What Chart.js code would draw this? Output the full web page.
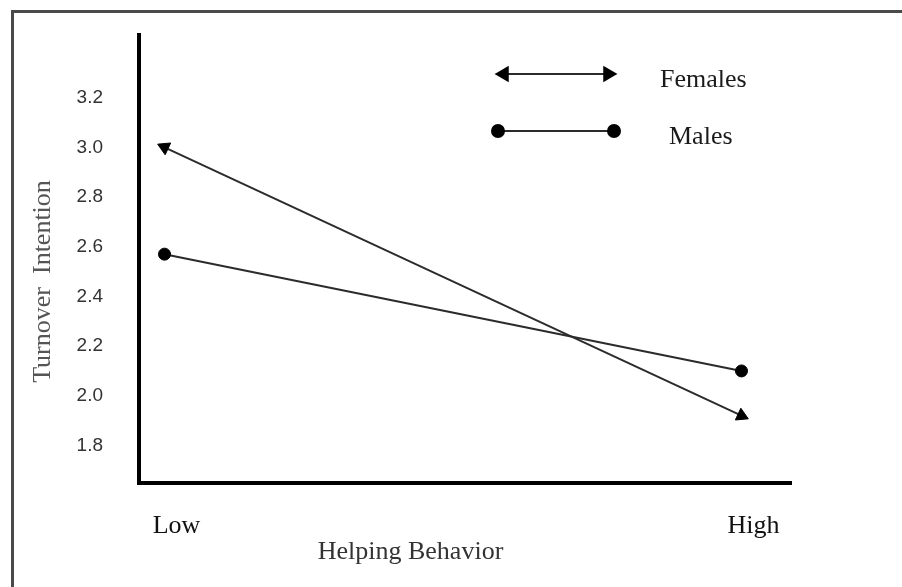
<!DOCTYPE html>
<html><head><meta charset="utf-8">
<script src="https://cdn.jsdelivr.net/npm/chart.js@4/dist/chart.umd.min.js"></script>
<style>
html,body{margin:0;padding:0;background:#fff;}
#wrap{position:relative;width:902px;height:587px;overflow:hidden;}
#frame{position:absolute;left:11px;top:10px;right:-10px;bottom:-10px;border-top:3px solid #4a4a4a;border-left:3px solid #4a4a4a;pointer-events:none;}
canvas{position:absolute;left:0;top:0;}
</style></head><body>
<div id="wrap"><canvas id="c" width="902" height="587"></canvas><div id="frame"></div></div>
<script>
const categories = ['Low', 'High'];
const seriesNames = ['Females', 'Males'];
const females = [3.0, 1.92];
const males = [2.57, 2.10];
const yTicks = [1.8, 2.0, 2.2, 2.4, 2.6, 2.8, 3.0, 3.2];
const xTitle = 'Helping Behavior';
const yTitle = 'Turnover  Intention';

const serif = '"Liberation Serif", "Times New Roman", serif';
const sans = '"Liberation Sans", Arial, sans-serif';

function arrowRotation(ctx) {
  const ch = ctx.chart;
  const d = ch.data.datasets[ctx.datasetIndex].data;
  const i = ctx.dataIndex, j = i === 0 ? 1 : 0;
  const xs = ch.scales.x, ys = ch.scales.y;
  if (!xs || !ys || d[i] == null) return 0;
  const dx = xs.getPixelForValue(d[i].x) - xs.getPixelForValue(d[j].x);
  const dy = ys.getPixelForValue(d[i].y) - ys.getPixelForValue(d[j].y);
  return Math.atan2(dy, dx) * 180 / Math.PI + 90;
}

const decor = {
  id: 'decor',
  afterDraw(chart) {
    const c = chart.ctx;
    c.save();
    // axis titles
    c.fillStyle = '#333';
    c.font = '26px ' + serif;
    c.textAlign = 'center';
    c.textBaseline = 'alphabetic';
    c.fillText(xTitle, 410.5, 559);
    c.save();
    c.translate(50, 281.5);
    c.rotate(-Math.PI / 2);
    c.fillStyle = '#555';
    c.fillText(yTitle, 0, 0);
    c.restore();
    // legend
    const rows = [{ y: 74, tx: 660, ty: 87 }, { y: 131, tx: 669, ty: 144 }];
    chart.data.datasets.forEach((ds, k) => {
      const r = rows[k];
      const x1 = 498, x2 = 614;
      c.strokeStyle = ds.borderColor;
      c.lineWidth = ds.borderWidth;
      c.beginPath(); c.moveTo(x1, r.y); c.lineTo(x2, r.y); c.stroke();
      c.fillStyle = ds.pointBackgroundColor;
      c.strokeStyle = ds.pointBorderColor;
      const pts = ds.pointStyle === 'triangle'
        ? [[x1 + 6, 270], [x2 - 6, 90]] : [[x1, 0], [x2, 0]];
      pts.forEach(([px, rot]) => {
        Chart.helpers.drawPoint(c, { pointStyle: ds.pointStyle, rotation: rot, radius: ds.pointRadius, borderWidth: ds.pointBorderWidth }, px, r.y);
      });
      c.fillStyle = '#1a1a1a';
      c.textAlign = 'left';
      c.font = '26px ' + serif;
      c.fillText(ds.label, r.tx, r.ty);
    });
    c.restore();
  }
};

new Chart(document.getElementById('c'), {
  type: 'line',
  data: {
    datasets: [
      {
        label: seriesNames[0],
        data: females.map((v, i) => ({ x: i, y: v })),
        borderColor: '#2b2b2b', borderWidth: 2,
        pointStyle: 'triangle', pointRadius: 7.5,
        pointBackgroundColor: '#000', pointBorderColor: '#000', pointBorderWidth: 1,
        pointRotation: arrowRotation
      },
      {
        label: seriesNames[1],
        data: males.map((v, i) => ({ x: i, y: v })),
        borderColor: '#2b2b2b', borderWidth: 2,
        pointStyle: 'circle', pointRadius: 6,
        pointBackgroundColor: '#000', pointBorderColor: '#000', pointBorderWidth: 1
      }
    ]
  },
  options: {
    responsive: false, animation: false, devicePixelRatio: 1,
    layout: { padding: { left: 0, top: 35, right: 111, bottom: 0 } },
    plugins: { legend: { display: false }, tooltip: { enabled: false } },
    elements: { line: { tension: 0 } },
    scales: {
      x: {
        type: 'linear', min: -0.0442, max: 1.0858,
        afterBuildTicks: s => { s.ticks = categories.map((c, i) => ({ value: i })); },
        ticks: { callback: v => categories[v], labelOffset: 12, padding: 28, maxRotation: 0, autoSkip: false,
                 font: { family: serif, size: 26 }, color: '#111' },
        grid: { display: false, drawTicks: false },
        border: { display: true, color: '#000', width: 4 },
        afterFit: s => { s.height = 104; s.paddingLeft = 0; s.paddingRight = 0; }
      },
      y: {
        type: 'linear', min: 1.649, max: 3.452,
        afterBuildTicks: s => { s.ticks = yTicks.map(v => ({ value: v })); },
        ticks: { callback: v => Number(v).toFixed(1), padding: 36,
                 font: { family: sans, size: 19 }, color: '#333' },
        grid: { display: false, drawTicks: false },
        border: { display: true, color: '#000', width: 4 },
        afterFit: s => { s.width = 139; s.paddingTop = 0; s.paddingBottom = 0; }
      }
    }
  },
  plugins: [decor]
});
</script>
</body></html>
